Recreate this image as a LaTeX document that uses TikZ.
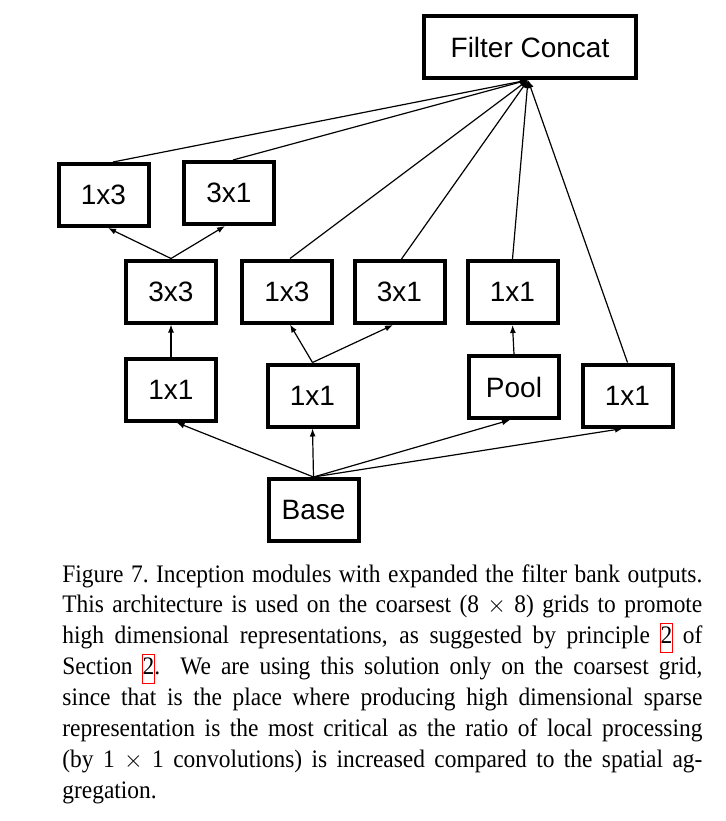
\documentclass[tikz,border=0pt]{standalone}
\usepackage{fontspec}
\setmainfont{Liberation Serif}[FakeStretch=0.93]
\newfontfamily\boxfont{Liberation Sans}
\usetikzlibrary{calc}
\usetikzlibrary{arrows.meta}
\tikzstyle{layer}=[draw,line width=2pt,minimum width=45pt,minimum height=31pt,inner sep=0pt,font=\boxfont\fontsize{14}{16}\selectfont]
\tikzstyle{flow}=[line width=0.6pt,-{Latex[length=4pt,width=3pt]}]
\newcommand{\linkbox}[1]{% red frame round a reference number
  \makebox[0pt][l]{\color{red}\setlength{\fboxsep}{0pt}\setlength{\fboxrule}{0.5pt}\hspace{-0.5pt}\fbox{\rule[-4pt]{0pt}{14pt}\phantom{#1}}}#1}

\begin{document}
\begin{tikzpicture}[x=0.5pt,y=-0.5pt]
\useasboundingbox (0,0) rectangle (726,821);
% concat layer
\node[layer,minimum width=106pt] (concat) at (530,47) {Filter Concat};
\coordinate (cin) at ($(concat.south)+(-2,0)$);
% upper split
\node[layer] (a1) at (103.5,195) {1x3};
\node[layer] (a2) at (229,193) {3x1};
% middle row
\node[layer] (b1) at (171,291.5) {3x3};
\node[layer] (b2) at (287,291.5) {1x3};
\node[layer] (b3) at (399.5,292) {3x1};
\node[layer] (b4) at (512.5,292) {1x1};
% lower row
\node[layer] (c1) at (171,389.5) {1x1};
\node[layer] (c2) at (312.5,395.5) {1x1};
\node[layer] (c3) at (514,387) {Pool};
\node[layer] (c4) at (627.5,395.5) {1x1};
% input
\node[layer] (base) at (313.5,510) {Base};
% into the concat
\foreach \src/\dx in {a1/9.5,a2/4,b2/3,b3/2,b4/0,c4/0}
  \draw[flow] ($(\src.north)+(\dx,0)$) -- (cin);
% branches
\draw[flow] (b1.north) -- ($(a1.south)+(4.5,0)$);
\draw[flow] (b1.north) -- ($(a2.south)+(-4,0)$);
\draw[flow] (c1.north) -- (b1.south);
\draw[flow] (c2.north) -- ($(b2.south)+(3,0)$);
\draw[flow] (c2.north) -- ($(b3.south)+(-6.5,0)$);
\draw[flow] (c3.north) -- (b4.south);
% from the base
\draw[flow] (base.north) -- ($(c1.south)+(5.5,0)$);
\draw[flow] (base.north) -- (c2.south);
\draw[flow] (base.north) -- ($(c3.south)+(-4,0)$);
\draw[flow] (base.north) -- ($(c4.south)+(-4.5,0)$);
% caption
\node[anchor=base west,text width=320pt,align=justify,inner sep=0pt,font=\fontsize{12.6}{15.45}\selectfont] (caption) at (62,582)
{Figure 7.\ Inception modules with expanded the filter bank outputs.\linebreak
This architecture is used on the coarsest (8 $\times$ 8) grids to promote\linebreak
high dimensional representations, as suggested by principle \linkbox{2} of\linebreak
Section \linkbox{2}.  We are using this solution only on the coarsest grid,\linebreak
since that is the place where producing high dimensional sparse\linebreak
representation is the most critical as the ratio of local processing\linebreak
(by 1 $\times$ 1 convolutions) is increased compared to the spatial ag-\linebreak
gregation.};
\end{tikzpicture}
\end{document}
